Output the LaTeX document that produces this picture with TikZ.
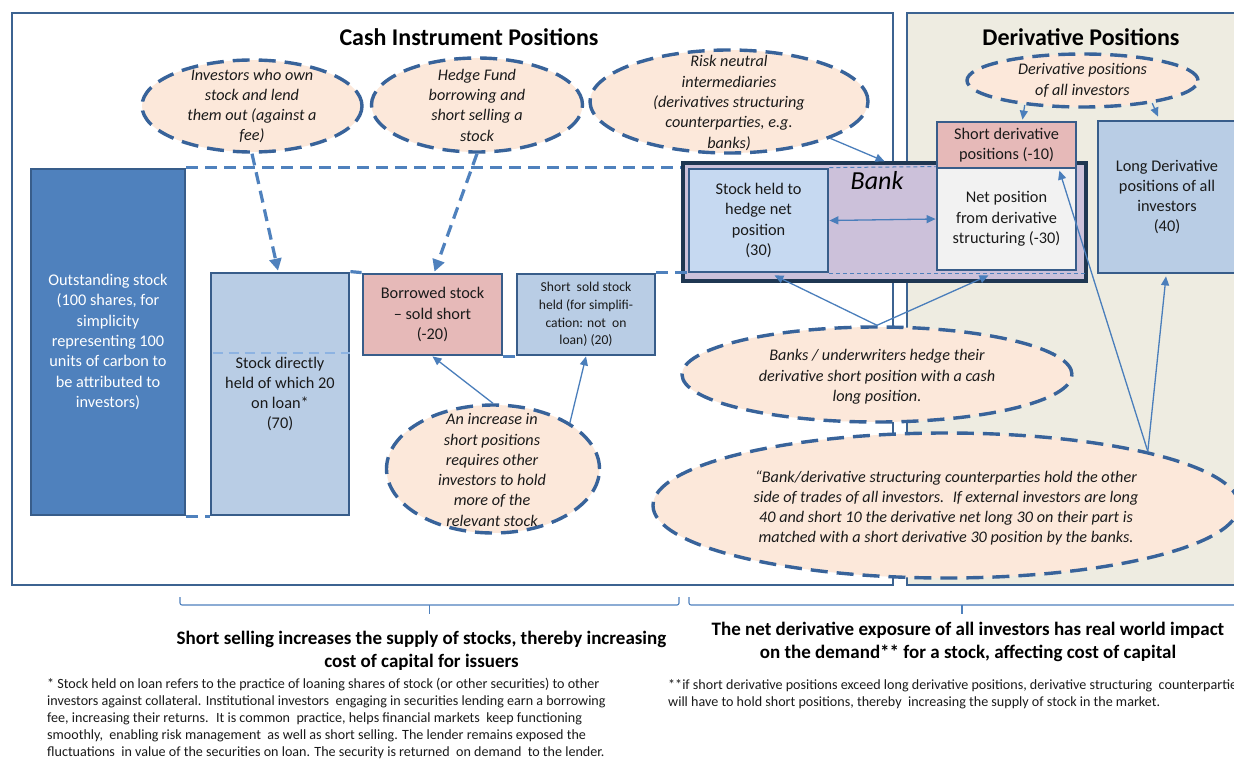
\documentclass[tikz,border=0pt]{standalone}
\usepackage{fontspec}
\setmainfont{Carlito}
\usetikzlibrary{arrows.meta,shapes.geometric,calc}
\definecolor{frame}{HTML}{3C6391}
\definecolor{boxline}{HTML}{385D8A}
\definecolor{ellline}{HTML}{38639A}
\definecolor{peach}{HTML}{FCE8DA}
\definecolor{midblue}{HTML}{4F81BD}
\definecolor{paleline}{HTML}{8DB3E2}
\definecolor{lightblue}{HTML}{B9CDE5}
\definecolor{paleblue}{HTML}{C6D9F1}
\definecolor{rose}{HTML}{E6B9B8}
\definecolor{lav}{HTML}{CCC1DA}
\definecolor{beige}{HTML}{EEECE1}
\definecolor{bankline}{HTML}{1F3752}
\definecolor{arrowblue}{HTML}{4A7EBB}
\definecolor{netgray}{HTML}{F2F2F2}
\definecolor{txt}{HTML}{1A1A1A}
\tikzset{
  panel/.style={draw=frame, line width=2.6pt},
  sbox/.style={rectangle, draw=boxline, line width=2.8pt, inner sep=0pt, align=center, text=txt, font=\fontsize{16.3}{20.3}\selectfont},
  bubble/.style={ellipse, draw=ellline, line width=3.4pt, dash pattern=on 17pt off 9pt, fill=peach, inner sep=0pt},
  bubbletext/.style={align=center, text=txt, font=\itshape\fontsize{16.2}{20.3}\selectfont, inner sep=0pt},
  link/.style={draw=midblue, line width=3.2pt, dash pattern=on 12pt off 7pt},
  thinlink/.style={draw=midblue, line width=1pt, dash pattern=on 4pt off 3pt},
  pointer/.style={draw=arrowblue, line width=1.3pt, -{Triangle[length=9pt,width=8pt]}},
  bigpointer/.style={draw=midblue, line width=3.2pt, dash pattern=on 12pt off 7pt, -{Triangle[length=12pt,width=12pt]}},
  bracket/.style={draw=midblue, line width=1.1pt, rounded corners=2pt},
  heading/.style={font=\bfseries\fontsize{24}{28}\selectfont, text=black, inner sep=0pt},
  summary/.style={font=\bfseries\fontsize{19}{23.5}\selectfont, text=black, align=center, inner sep=0pt},
  note/.style={font=\fontsize{14.1}{17.2}\selectfont, text=txt, align=left, inner sep=0pt, anchor=north west},
}
\begin{document}
\begin{tikzpicture}[x=1pt,y=-1pt]
\useasboundingbox (0,0) rectangle (1234,760);
\fill[white] (0,0) rectangle (1234,760);
% panels
\draw[panel, fill=white] (12,13) rectangle (893,585);
\draw[panel, fill=beige] (907,13) rectangle (1245,585);
\node[heading] (cashtitle) at (469,37) {Cash Instrument Positions};
\node[heading] (derivtitle) at (1081,37) {Derivative Positions};

% bank
\node[rectangle, draw=bankline, fill=lav, line width=3.4pt, minimum width=403pt, minimum height=118pt, inner sep=0pt] (bank) at (884.5,222) {};
\node[font=\itshape\fontsize{26}{30}\selectfont, text=black, inner sep=0pt] (banklabel) at (877,181) {Bank};

% boxes
\node[sbox, fill=midblue, text=white, minimum width=154pt, minimum height=346pt] (outst) at (108,342)
  {Outstanding stock\\(100 shares, for\\simplicity\\representing 100\\units of carbon to\\be attributed to\\investors)};
\node[sbox, fill=lightblue, minimum width=138pt, minimum height=242pt] (direct) at (280,394)
  {Stock directly\\held of which 20\\on loan*\\(70)};
\node[sbox, fill=rose, minimum width=139pt, minimum height=81pt] (borrowed) at (432.5,314.5)
  {Borrowed stock\\– sold short\\(-20)};
\node[sbox, fill=lightblue, minimum width=138pt, minimum height=81pt, font=\fontsize{13.6}{17.8}\selectfont] (shortsold) at (586,314.5)
  {Short~ sold stock\\held (for simplifi-\\cation: not~ on\\loan) (20)};
\node[sbox, fill=paleblue, minimum width=139pt, minimum height=103pt] (stockheld) at (758.5,220.5)
  {Stock held to\\hedge net\\position\\(30)};
\node[sbox, fill=netgray, minimum width=139pt, minimum height=102pt] (netpos) at (1006.5,219)
  {Net position\\from derivative\\structuring (-30)};
\node[sbox, fill=rose, minimum width=139pt, minimum height=46pt] (shortd) at (1006.5,145)
  {Short derivative\\positions (-10)};
\node[sbox, fill=lightblue, minimum width=138pt, minimum height=152pt] (longd) at (1167,197)
  {Long Derivative\\positions of all\\investors\\(40)};

% dashed links
\draw[link] (outst.north east) -- (outst.north east -| bank.west);
\draw[link] (outst.south east) -- (direct.south west);
\draw[link] (direct.north east) -- (borrowed.north west);
\draw[link] (borrowed.south east) -- (shortsold.south west);
\draw[link] (shortsold.north east) -- (shortsold.north east -| stockheld.west);
\draw[draw=paleline, line width=2.6pt, dash pattern=on 10pt off 6pt] ($(direct.west)+(3,-41)$) coordinate (dl) -- (dl -| direct.east);
\draw[thinlink] (stockheld.north east) -- (netpos.north west);
\draw[thinlink] (stockheld.south east) -- (stockheld.south east -| bank.east);
\draw[draw=arrowblue, line width=1.3pt, {Triangle[length=9pt,width=8pt]}-{Triangle[length=9pt,width=8pt]}] (stockheld.east) -- (netpos.west);

% bubbles
\node[bubble, minimum width=220pt, minimum height=92pt] (e1) at (252,106) {};
\node[bubbletext] (t1) at (e1) {Investors who own\\stock and lend\\them out (against a\\fee)};
\node[bubble, minimum width=211pt, minimum height=94pt] (e2) at (477,105) {};
\node[bubbletext] (t2) at (e2) {Hedge Fund\\borrowing and\\short selling a\\stock};
\node[bubble, minimum width=278pt, minimum height=103pt] (e3) at (729,101.5) {};
\node[bubbletext] (t3) at (729,103) {Risk neutral\\intermediaries\\(derivatives structuring\\counterparties, e.g.\\banks)};
\node[bubble, minimum width=231pt, minimum height=53pt] (e4) at (1082.5,80.5) {};
\node[bubbletext] (t4) at (e4) {Derivative positions\\of all investors};
\node[bubble, minimum width=213pt, minimum height=128pt] (e5) at (493,469) {};
\node[bubbletext] (t5) at (492,470) {An increase in\\short positions\\requires other\\investors to hold\\more of the\\relevant stock};
\node[bubble, minimum width=390pt, minimum height=95pt] (e6) at (877,374.5) {};
\node[bubbletext] (t6) at (877,377) {Banks / underwriters hedge their\\derivative short position with a cash\\long position.};
\node[bubble, minimum width=586pt, minimum height=145pt] (e7) at (946,505.5) {};
\node[bubbletext] (t7) at (946,508) {“Bank/derivative structuring counterparties hold the other\\side of trades of all investors.~ If external investors are long\\40 and short 10 the derivative net long 30 on their part is\\matched with a short derivative 30 position by the banks.};

% arrows
\draw[bigpointer] (e1.south) -- ($(direct.north)+(-2,-1)$);
\draw[bigpointer] (e2.south) -- ($(borrowed.north)+(2,-1)$);
\draw[pointer] (e3.-20) -- (bank.north);
\draw[pointer] (e4.203) -- ($(shortd.north)+(16,-1)$);
\draw[pointer] (e4.-18) -- ($(longd.north)+(-9,-3)$);
\draw[pointer] (e5.north) -- (borrowed.south);
\draw[pointer] (e5.31) -- (shortsold.south);
\draw[pointer] (e6.north) -- ($(stockheld.south)+(16,2)$);
\draw[pointer] (e6.north) -- ($(netpos.south)+(-18,4)$);
\draw[pointer] (e7.15) -- ($(netpos.north east)+(-18,4)$);
\draw[pointer] (e7.15) -- ($(longd.south)+(-1,2)$);

% brackets
\coordinate (bl1) at (180,597); \coordinate (bl2) at (679,597); \coordinate (blt) at (429.5,614);
\draw[bracket] (bl1) -- (180,605) -- (679,605) -- (bl2);
\draw[bracket] (429.5,605) -- (blt);
\coordinate (br1) at (689,597); \coordinate (brt) at (962,614);
\draw[bracket] (br1) -- (689,605) -- (1245,605);
\draw[bracket] (962,605) -- (brt);

\node[summary] (sumleft) at (421.5,651) {Short selling increases the supply of stocks, thereby increasing\\cost of capital for issuers};
\node[summary] (sumright) at (968,642) {The net derivative exposure of all investors has real world impact\\on the demand** for a stock, affecting cost of capital};

\node[note] (noteleft) at (47,677.5) {* Stock held on loan refers to the practice of loaning shares of stock (or other securities) to other\\
investors against collateral. Institutional investors~ engaging in securities lending earn a borrowing\\
fee, increasing their returns.~ It is common~ practice, helps financial markets~ keep functioning\\
smoothly,~ enabling risk management~ as well as short selling. The lender remains exposed the\\
fluctuations~ in value of the securities on loan. The security is returned~ on demand~ to the lender.};
\node[note] (noteright) at (668,679.5) {**if short derivative positions exceed long derivative positions, derivative structuring~ counterparties\\
will have to hold short positions, thereby~ increasing the supply of stock in the market.};
\end{tikzpicture}
\end{document}
